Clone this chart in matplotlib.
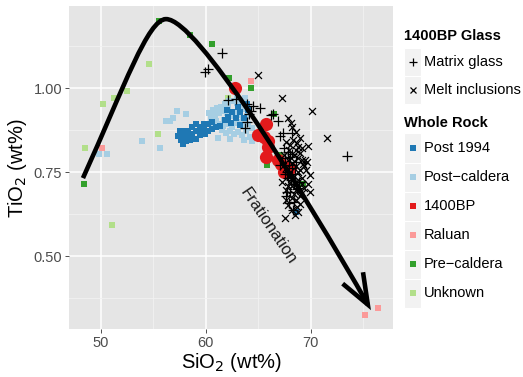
import matplotlib
matplotlib.use("Agg")
import matplotlib.pyplot as plt
from matplotlib.path import Path
from matplotlib.patches import FancyArrowPatch, Rectangle
from matplotlib.lines import Line2D

plt.rcParams['font.family'] = ['Liberation Sans', 'DejaVu Sans']

# whole rock analyses (SiO2, TiO2 in wt%)
post1994_si = [57.55, 57.93, 58.31, 57.36, 57.84, 58.31, 58.70, 59.08, 58.70, 59.08, 59.46, 59.46,
               59.84, 59.84, 60.22, 60.60, 57.65, 58.12, 58.50, 59.08, 57.84, 59.46, 59.93, 60.98,
               61.36, 61.84, 62.12, 62.50, 62.03, 62.89, 63.27, 63.08, 63.65, 64.03, 62.41, 63.27,
               63.93, 60.60, 60.22, 68.60]
post1994_ti = [0.872, 0.872, 0.872, 0.857, 0.857, 0.854, 0.863, 0.872, 0.884, 0.893, 0.884, 0.872,
               0.881, 0.893, 0.872, 0.878, 0.845, 0.842, 0.845, 0.848, 0.833, 0.860, 0.863, 0.884,
               0.887, 0.905, 0.914, 0.929, 0.935, 0.911, 0.929, 0.943, 0.911, 0.935, 0.896, 0.890,
               0.952, 0.899, 0.893, 0.632]

postcal_si = [60.32, 60.70, 61.08, 61.46, 61.84, 62.22, 62.60, 62.99, 63.36, 63.74,
              60.50, 60.89, 61.27, 61.65, 62.03, 62.41, 62.79, 63.17, 63.55, 63.93,
              60.98, 61.36, 61.74, 62.12, 62.50, 62.89, 63.27, 63.65, 64.03, 64.41,
              61.55, 61.93, 62.31, 62.70, 63.08, 63.46, 63.84, 64.22, 64.70,
              61.17, 62.31, 63.65, 64.41, 62.12, 62.99, 63.74, 61.65, 60.60,
              49.87, 50.63, 53.96, 55.68, 57.30, 58.15, 56.91, 56.22, 56.60]
postcal_ti = [0.926, 0.935, 0.940, 0.943, 0.952, 0.961, 0.961, 0.955, 0.946, 0.938,
              0.911, 0.917, 0.926, 0.932, 0.926, 0.917, 0.929, 0.920, 0.908, 0.917,
              0.902, 0.893, 0.905, 0.893, 0.884, 0.896, 0.899, 0.887, 0.893, 0.881,
              0.875, 0.866, 0.872, 0.863, 0.869, 0.860, 0.872, 0.854, 0.860,
              0.851, 0.848, 0.845, 0.842, 0.946, 0.976, 0.970, 0.887, 0.896,
              0.803, 0.803, 0.841, 0.821, 0.932, 0.922, 0.910, 0.902, 0.902]

bp1400_si = [62.79, 65.74, 64.98, 65.55, 65.98, 65.96, 65.71, 66.91, 67.17, 67.55, 67.46, 68.03]
bp1400_ti = [1.001, 0.892, 0.860, 0.854, 0.842, 0.824, 0.794, 0.786, 0.775, 0.766, 0.750, 0.762]

raluan_si = [64.34, 50.15, 76.44, 75.20]
raluan_ti = [1.021, 0.821, 0.344, 0.324]

precal_si = [55.58, 58.50, 60.63, 62.25, 64.34, 66.50, 65.81, 69.24, 48.44, 67.08]
precal_ti = [1.199, 1.159, 1.130, 1.029, 0.999, 0.923, 0.772, 0.714, 0.713, 0.800]

unknown_si = [54.63, 52.48, 51.30, 50.25, 48.53, 55.49, 51.10, 62.15]
unknown_ti = [1.071, 0.990, 0.969, 0.951, 0.821, 0.862, 0.591, 0.969]

# 1400BP glass analyses
matrix_si = [61.58, 59.89, 60.25, 62.08, 62.84, 63.90, 64.50, 64.36, 64.12, 63.74, 63.90, 66.22,
             66.89, 66.44, 67.08, 68.19, 67.39, 67.08, 67.71, 67.87, 67.96, 68.03, 73.49, 67.46,
             67.84, 68.22, 68.41, 68.03, 67.65, 68.79, 68.31, 67.55, 65.17,
             68.60, 67.94, 68.50, 68.12, 68.70, 67.75, 68.41, 68.20, 68.90, 67.60]
matrix_ti = [1.103, 1.049, 1.056, 0.964, 0.966, 0.952, 0.946, 0.933, 0.923, 0.882, 0.900, 0.920,
             0.903, 0.923, 0.857, 0.867, 0.865, 0.771, 0.751, 0.731, 0.657, 0.796, 0.799, 0.821,
             0.810, 0.762, 0.714, 0.690, 0.679, 0.702, 0.637, 0.792, 0.940,
             0.780, 0.770, 0.745, 0.725, 0.700, 0.690, 0.660, 0.805, 0.720, 0.745]

melt_si = [64.98, 67.27, 70.12, 71.55, 67.81, 68.15, 68.22, 68.34, 68.82, 69.77, 69.14, 69.46,
           69.30, 69.98, 69.17, 68.67, 67.55, 68.50, 67.24, 69.62, 67.39, 69.93, 68.60, 68.98,
           67.93, 68.41, 68.79, 67.84, 68.22, 68.60, 68.98, 68.03, 68.41, 68.79, 69.17, 68.22,
           68.60, 68.98, 68.22, 68.60, 67.84, 69.17, 69.55, 67.65, 68.03,
           67.65, 68.70, 67.46, 68.98, 68.12, 67.65, 69.17, 67.84, 69.36, 68.03, 68.79, 68.41,
           67.65, 68.98, 68.22, 68.79, 67.84, 69.36, 68.60, 69.74]
melt_ti = [1.039, 0.969, 0.933, 0.851, 0.910, 0.897, 0.885, 0.845, 0.824, 0.826, 0.821, 0.786,
           0.775, 0.740, 0.687, 0.647, 0.614, 0.622, 0.721, 0.781, 0.768, 0.690, 0.869, 0.851,
           0.815, 0.801, 0.792, 0.786, 0.777, 0.768, 0.756, 0.750, 0.738, 0.726, 0.714, 0.708,
           0.696, 0.679, 0.673, 0.667, 0.652, 0.732, 0.756, 0.696, 0.830,
           0.839, 0.836, 0.801, 0.807, 0.792, 0.762, 0.786, 0.738, 0.702, 0.720, 0.750, 0.685,
           0.667, 0.655, 0.637, 0.631, 0.708, 0.768, 0.815, 0.714]

# fractionation trend drawn as bezier segments
trend_pts = [(48.31, 0.732), (52.31, 1.009), (54.50, 1.205), (56.22, 1.205),
             (57.74, 1.205), (60.89, 1.077), (64.22, 0.926),
             (67.55, 0.774), (72.79, 0.503), (75.74, 0.339)]

colors = {'Post 1994': '#1f78b4', 'Post-caldera': '#a6cee3', '1400BP': '#e31a1c',
          'Raluan': '#fb9a99', 'Pre-caldera': '#33a02c', 'Unknown': '#b2df8a'}

W, H = 523, 377
fig = plt.figure(figsize=(W / 100, H / 100), dpi=100)
ax = fig.add_axes([69 / W, 1 - 329 / H, 324 / W, 323 / H])
ax.set_facecolor('#e5e5e5')
for s in ax.spines.values():
    s.set_visible(False)

ax.set_xlim(46.98, 77.84)
ax.set_ylim(0.283, 1.244)
ax.set_xticks([50, 60, 70])
ax.set_xticks([55, 65, 75], minor=True)
ax.set_yticks([0.5, 0.75, 1.0])
ax.set_yticklabels(['0.50', '0.75', '1.00'])
ax.set_yticks([0.375, 0.625, 0.875, 1.125], minor=True)
ax.grid(which='major', color='white', lw=1.1)
ax.grid(which='minor', color='#f2f2f2', lw=0.6)
ax.set_axisbelow(True)
ax.tick_params(which='major', length=3, width=0.6, color='#333333', labelcolor='#4d4d4d',
               labelsize=10.5, pad=2)
ax.tick_params(which='minor', length=0)

sq = dict(marker='s', s=18, linewidths=0, zorder=3)
ax.scatter(unknown_si, unknown_ti, color=colors['Unknown'], **sq)
ax.scatter(precal_si, precal_ti, color=colors['Pre-caldera'], **sq)
ax.scatter(raluan_si, raluan_ti, color=colors['Raluan'], **sq)
ax.scatter(postcal_si, postcal_ti, color=colors['Post-caldera'], **sq)
ax.scatter(post1994_si, post1994_ti, color=colors['Post 1994'], **sq)
ax.scatter(bp1400_si, bp1400_ti, color=colors['1400BP'], marker='o', s=90, linewidths=0, zorder=4)
ax.scatter(matrix_si, matrix_ti, color='black', marker='+', s=45, linewidths=0.9, zorder=5)
ax.scatter(melt_si, melt_ti, color='black', marker='x', s=25, linewidths=0.9, zorder=5)

codes = [Path.MOVETO] + [Path.CURVE4] * 9
arrow = FancyArrowPatch(path=Path(trend_pts, codes),
                        arrowstyle='->,head_length=1.1,head_width=0.42',
                        mutation_scale=20, lw=3.3, color='black', zorder=6,
                        joinstyle='miter', capstyle='butt')
ax.add_patch(arrow)

ax.text(65.93, 0.589, 'Frationation', rotation=-56, ha='center', va='center',
        fontsize=12, color='#1a1a1a', zorder=7)

fig.text(231 / W, 1 - 362 / H, 'SiO$_2$ (wt%)', ha='center', va='center', fontsize=14.5)
fig.text(18 / W, 1 - 168 / H, 'TiO$_2$ (wt%)', ha='center', va='center', fontsize=14.5,
         rotation=90)


# legend built by hand in figure pixels
def fpos(x, y):
    return x / W, 1 - y / H


def key_box(yc, h):
    x0, y0 = fpos(404, yc + h / 2)
    fig.add_artist(Rectangle((x0, y0), 17 / W, h / H, transform=fig.transFigure,
                             facecolor='#f2f2f2', edgecolor='white', lw=0.8))


fig.text(*fpos(404, 36), '1400BP Glass', ha='left', va='center', fontsize=10.5,
         fontweight='bold')
glass_keys = [('Matrix glass', '+', 6, 62), ('Melt inclusions', 'x', 4, 90)]
for label, mk, ms, yc in glass_keys:
    key_box(yc, 28)
    fig.add_artist(Line2D([fpos(412.5, yc)[0]], [fpos(412.5, yc)[1]], marker=mk, ms=ms,
                          mew=0.9, color='black', transform=fig.transFigure))
    fig.text(*fpos(424, yc), label, ha='left', va='center', fontsize=10.5)

fig.text(*fpos(404, 123), 'Whole Rock', ha='left', va='center', fontsize=10.5,
         fontweight='bold')
rock_rows = ['Post 1994', 'Post-caldera', '1400BP', 'Raluan', 'Pre-caldera', 'Unknown']
for i, name in enumerate(rock_rows):
    yc = 148 + i * 29
    key_box(yc, 29)
    fig.add_artist(Line2D([fpos(412.5, yc)[0]], [fpos(412.5, yc)[1]], marker='s', ms=4,
                          mew=0, color=colors[name], transform=fig.transFigure))
    fig.text(*fpos(424, yc), name.replace('-', '\u2212'), ha='left', va='center', fontsize=10.5)

fig.savefig('out.png', dpi=100)
